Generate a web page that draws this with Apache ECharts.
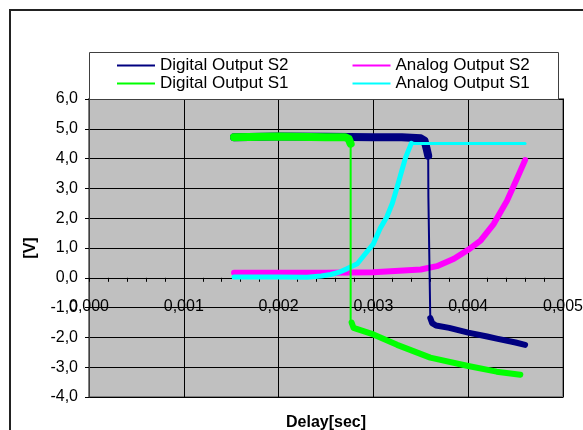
<!DOCTYPE html>
<html>
<head>
<meta charset="utf-8">
<script src="https://cdn.jsdelivr.net/npm/echarts@6/dist/echarts.min.js"></script>
<style>
html,body{margin:0;padding:0;background:#fff;}
#chart{width:583px;height:430px;}
</style>
</head>
<body>
<div id="chart"></div>
<script>
// ---- data (x in seconds, y in volts) ----
const seriesNames = ['Digital Output S2', 'Analog Output S2', 'Digital Output S1', 'Analog Output S1'];

// Digital Output S2 (navy)
const digitalS2High = [[0.00153,4.72],[0.0020,4.74],[0.0025,4.73],[0.0030,4.72],[0.0033,4.72],[0.0035,4.68],[0.00354,4.60],[0.00356,4.35],[0.003578,4.10]];
const digitalS2Drop = [[0.003578,4.10],[0.00358,2.70],[0.0036,2.65],[0.0036,-1.35]];
const digitalS2Low  = [[0.0036,-1.35],[0.00362,-1.52],[0.00366,-1.60],[0.0038,-1.68],[0.0040,-1.84],[0.0042,-1.97],[0.0043,-2.04],[0.0045,-2.17],[0.0046,-2.25]];

// Digital Output S1 (green)
const digitalS1High = [[0.00153,4.72],[0.0020,4.74],[0.0025,4.72],[0.0027,4.72],[0.00274,4.66],[0.00276,4.50]];
const digitalS1Drop = [[0.00276,4.50],[0.00276,-1.45],[0.00277,-1.50]];
const digitalS1Low  = [[0.00277,-1.50],[0.00279,-1.68],[0.0030,-1.90],[0.00325,-2.25],[0.0036,-2.68],[0.0040,-2.96],[0.0043,-3.15],[0.00455,-3.25]];

// Analog Output S2 (magenta)
const analogS2 = [[0.00153,0.17],[0.0025,0.17],[0.0030,0.19],[0.0035,0.28],[0.00367,0.39],[0.00385,0.64],[0.0040,0.94],[0.00413,1.25],[0.00427,1.81],[0.00441,2.59],[0.00452,3.37],[0.0046,3.95]];

// Analog Output S1 (cyan)
const analogS1Rise = [[0.00153,0.03],[0.0020,0.03],[0.0023,0.02],[0.00245,0.06],[0.00255,0.11],[0.00265,0.20],[0.00272,0.30],[0.00283,0.47],[0.0029,0.75],[0.0030,1.14],[0.00307,1.65],[0.00314,2.03],[0.0032,2.50],[0.00325,3.04],[0.0033,3.60],[0.00334,4.04],[0.0034,4.51]];
const analogS1Flat = [[0.0034,4.51],[0.0046,4.51]];

// axes
const xMin = 0, xMax = 0.005, xStep = 0.001;
const yMin = -4, yMax = 6, yStep = 1;
const xTitle = 'Delay[sec]';
const yTitle = '[V]';

const colors = {d2:'#000080', a2:'#FF00FF', d1:'#00FF00', a1:'#00FFFF'};
const font = 'Liberation Sans, Arial, sans-serif';

const gridTop = 99, gridHeight = 298;
// the x axis crosses the y axis at 0: shift it up from the grid bottom accordingly
const xAxisOffset = -((0 - yMin) / (yMax - yMin)) * gridHeight;

const chart = echarts.init(document.getElementById('chart'), null, {renderer:'canvas'});

function lineSeries(name, data, color, width, z){
  return {
    name: name, type:'line', data: data, symbol:'none', showSymbol:false,
    lineStyle:{color:color, width:width, join:'round', cap:'round'},
    itemStyle:{color:color}, z: z, animation:false, silent:true
  };
}

const legendCommon = {
  orient:'horizontal', left:117, itemWidth:38, itemHeight:14, itemGap:64, padding:0,
  icon:'path://M0,6 L38,6 L38,8 L0,8 Z',
  textStyle:{fontFamily:font, fontSize:17, color:'#000'},
  selectedMode:false, z:10
};

chart.setOption({
  animation:false,
  backgroundColor:'#fff',
  graphic:[
    {type:'rect', z:0, shape:{x:10, y:10, width:620, height:520}, style:{fill:'none', stroke:'#222', lineWidth:2}},
    {type:'rect', z:5, shape:{x:89.5, y:52.5, width:469, height:47}, style:{fill:'#fff', stroke:'#404040', lineWidth:1}}
  ],
  legend:[
    Object.assign({}, legendCommon, {top:57, data:[seriesNames[0], seriesNames[1]]}),
    Object.assign({}, legendCommon, {top:75, data:[seriesNames[2], seriesNames[3]]})
  ],
  grid:{
    left:89, top:gridTop, width:474, height:gridHeight, show:true, containLabel:false, outerBoundsMode:'none',
    backgroundColor:'#C0C0C0', borderColor:'#808080', borderWidth:2
  },
  xAxis:{
    type:'value', min:xMin, max:xMax, interval:xStep, position:'bottom', offset:xAxisOffset,
    name:xTitle, nameLocation:'middle', nameGap:137,
    nameTextStyle:{fontFamily:font, fontSize:16, fontWeight:'bold', color:'#000'},
    axisLine:{show:true, onZero:false, lineStyle:{color:'#000', width:1}},
    axisTick:{show:true, inside:false, length:4, lineStyle:{color:'#000'}},
    minorTick:{show:true, splitNumber:5, length:4, lineStyle:{color:'#000'}},
    axisLabel:{margin:21, fontFamily:font, fontSize:16, color:'#000',
      formatter:function(v){return v.toFixed(3).replace('.', ',');}},
    splitLine:{show:true, lineStyle:{color:'#000', width:1}}
  },
  yAxis:{
    type:'value', min:yMin, max:yMax, interval:yStep,
    name:yTitle, nameLocation:'middle', nameGap:50, nameRotate:90,
    nameTextStyle:{fontFamily:font, fontSize:16, fontWeight:'bold', color:'#000'},
    axisLine:{show:true, onZero:false, lineStyle:{color:'#404040', width:1}},
    axisTick:{show:true, inside:false, length:4, lineStyle:{color:'#000'}},
    axisLabel:{margin:11, fontFamily:font, fontSize:16, color:'#000',
      formatter:function(v){return v.toFixed(1).replace('.', ',');}},
    splitLine:{show:true, lineStyle:{color:'#000', width:1}}
  },
  series:[
    lineSeries(seriesNames[0], digitalS2High, colors.d2, 8, 2),
    lineSeries('d2low', digitalS2Low, colors.d2, 6, 2),
    lineSeries(seriesNames[1], analogS2, colors.a2, 6, 3),
    lineSeries(seriesNames[2], digitalS1High, colors.d1, 8, 4),
    lineSeries('d1low', digitalS1Low, colors.d1, 6, 4),
    lineSeries(seriesNames[3], analogS1Rise, colors.a1, 5, 5),
    lineSeries('a1flat', analogS1Flat, colors.a1, 3, 5),
    lineSeries('d2drop', digitalS2Drop, colors.d2, 2, 6),
    lineSeries('d1drop', digitalS1Drop, colors.d1, 2, 6)
  ]
});
</script>
</body>
</html>
